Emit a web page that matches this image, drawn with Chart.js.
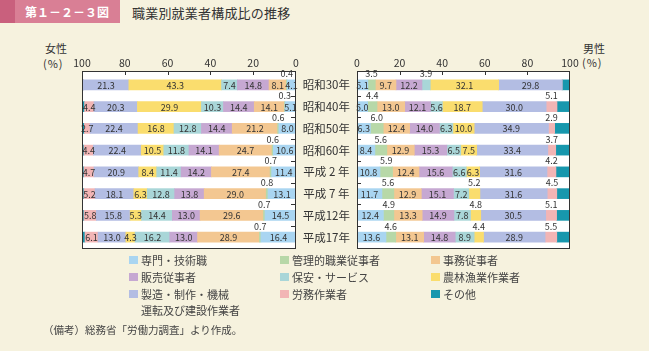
<!DOCTYPE html>
<html>
<head>
<meta charset="utf-8">
<title>職業別就業者構成比の推移</title>
<script src="https://cdn.jsdelivr.net/npm/chart.js"></script>
<style>
    body { margin: 0; background: #f6f2de; font-family: "Noto Sans CJK JP", sans-serif; color: #333; }
    #wrap { position: relative; width: 649px; height: 351px; overflow: hidden; }
    #wrap canvas { position: absolute; left: 0; top: 0; }
    .tag { position: absolute; left: 0; top: 0; width: 120px; height: 23px; box-sizing: border-box;
           background: #d97f95; border-left: 15px solid #c9607d; color: #fff; font-size: 12px;
           font-weight: bold; line-height: 23px; padding-left: 10px; }
    .title { position: absolute; left: 132px; top: 3px; font-size: 13px; letter-spacing: 0.2px; color: #333; }
    .txt { position: absolute; font-size: 11px; line-height: 14px; color: #333; white-space: nowrap; }
    .lg { position: absolute; font-size: 11px; line-height: 16px; color: #444; white-space: nowrap; }
    .lg i { position: absolute; left: -12px; top: 4px; width: 9px; height: 8px; }
    .note { position: absolute; left: 43px; top: 322px; font-size: 10.5px; color: #444; }
</style>
</head>
<body>
<div id="wrap">
    <div class="tag">第１－２－３図</div>
    <div class="title">職業別就業者構成比の推移</div>
    <div class="txt" style="left:45px; top:41px;">女性</div>
    <div class="txt" style="left:43px; top:56px; letter-spacing:1px;">(%)</div>
    <div class="txt" style="left:583px; top:41px;">男性</div>
    <div class="txt" style="left:582px; top:55px; letter-spacing:1px;">(%)</div>
    <canvas id="female" width="649" height="351"></canvas>
    <canvas id="male" width="649" height="351"></canvas>
    <div id="legend"></div>
    <div class="note">（備考）総務省「労働力調査」より作成。</div>
</div>

<script>
    const years = ['昭和30年', '昭和40年', '昭和50年', '昭和60年', '平成 2 年', '平成 7 年', '平成12年', '平成17年'];
    const occupations = ['専門・技術職', '管理的職業従事者', '事務従事者', '販売従事者', '保安・サービス',
                         '農林漁業作業者', '製造・制作・機械運転及び建設作業者', '労務作業者', 'その他'];

    // 女性 (%)
    const fSenmon = [4.1, 5.1, 8.0, 10.6, 11.4, 13.1, 14.5, 16.4];
    const fKanri  = [0.4, 0.3, 0.6, 0.6, 0.7, 0.8, 0.7, 0.7];
    const fJimu   = [8.1, 14.1, 21.2, 24.7, 27.4, 29.0, 29.6, 28.9];
    const fHanbai = [14.8, 14.4, 14.4, 14.1, 14.2, 13.8, 13.0, 13.0];
    const fHoan   = [7.4, 10.3, 12.8, 11.8, 11.4, 12.8, 14.4, 16.2];
    const fNorin  = [43.3, 29.9, 16.8, 10.5, 8.4, 6.3, 5.3, 4.3];
    const fSeizo  = [21.3, 20.3, 22.4, 22.4, 20.9, 18.1, 15.8, 13.0];
    const fRomu   = [0, 4.4, 2.7, 4.4, 4.7, 5.2, 5.8, 6.1];
    const fSonota = [0.6, 1.2, 1.1, 0.9, 0.9, 0.9, 0.9, 1.4];

    // 男性 (%)
    const mSenmon = [5.1, 5.0, 6.3, 8.4, 10.8, 11.7, 12.4, 13.6];
    const mKanri  = [3.5, 4.4, 6.0, 5.6, 5.9, 5.6, 4.9, 4.6];
    const mJimu   = [9.7, 13.0, 12.4, 12.9, 12.4, 12.9, 13.3, 13.1];
    const mHanbai = [12.2, 12.1, 14.0, 15.3, 15.6, 15.1, 14.9, 14.8];
    const mHoan   = [3.9, 5.6, 6.3, 6.5, 6.6, 7.2, 7.8, 8.9];
    const mNorin  = [32.1, 18.7, 10.0, 7.5, 6.3, 5.2, 4.8, 4.4];
    const mSeizo  = [29.8, 30.0, 34.9, 33.4, 31.6, 31.6, 30.5, 28.9];
    const mRomu   = [0, 5.1, 2.9, 3.7, 4.2, 4.5, 5.1, 5.5];
    const mSonota = [3.7, 6.1, 7.2, 6.7, 6.6, 6.2, 6.3, 6.2];

    const axisTicks = [0, 20, 40, 60, 80, 100];

    const colors = ['#a9d5f1', '#b7d8a8', '#f3c791', '#c6a8d2', '#a9d6d8', '#fadd6e', '#b3bde3', '#f2b5b5', '#1797ad'];
    const FONT = '"Noto Sans CJK JP", sans-serif';

    // which segments get their value written above the bar (row indexes), and which are left unlabeled
    const fAbove = { 1: 'all' };
    const mAbove = { 1: 'all', 4: [0], 5: [5, 6, 7], 7: 'all' };
    const noLabel = [8];

    function makeDatasets(series, above) {
        return series.map((d, i) => ({
            label: occupations[i], data: d, backgroundColor: colors[i],
            borderWidth: 0, barThickness: 10, above: above[i] || null
        }));
    }

    const frame = {
        id: 'frame',
        beforeDraw(chart) {
            const a = chart.chartArea, c = chart.ctx;
            c.save();
            c.fillStyle = '#fff';
            c.fillRect(a.left, a.top - 3, a.right - a.left, a.bottom - a.top + 4);
            c.restore();
        },
        afterDraw(chart) {
            const a = chart.chartArea, c = chart.ctx, xs = chart.scales.x;
            const top = a.top - 3;
            c.save();
            c.strokeStyle = '#333';
            c.lineWidth = 1;
            c.strokeRect(Math.round(a.left) + 0.5, top + 0.5, Math.round(a.right - a.left) - 1, Math.round(a.bottom - top));
            [20, 40, 60, 80].forEach(v => {
                const x = Math.round(xs.getPixelForValue(v)) + 0.5;
                c.beginPath(); c.moveTo(x, top); c.lineTo(x, top + 4); c.stroke();
            });
            c.restore();
        }
    };

    const segLabels = {
        id: 'segLabels',
        afterDatasetsDraw(chart) {
            const c = chart.ctx, a = chart.chartArea;
            const female = chart.options.scales.x.reverse;
            c.save();
            c.font = '9px ' + FONT;
            c.fillStyle = '#333';
            c.textAlign = 'center';
            c.textBaseline = 'middle';
            chart.data.datasets.forEach((ds, di) => {
                if (noLabel.includes(di)) return;
                chart.getDatasetMeta(di).data.forEach((bar, i) => {
                    const v = ds.data[i];
                    if (!v) return;
                    const cx = (bar.x + bar.base) / 2;
                    const up = ds.above === 'all' || (Array.isArray(ds.above) && ds.above.includes(i));
                    c.fillText(v.toFixed(1), cx, up ? bar.y - 11 : bar.y + 0.5);
                });
            });
            // small leader marks at the axis edge
            c.strokeStyle = '#333';
            c.lineWidth = 1;
            const meta = chart.getDatasetMeta(0).data;
            meta.forEach((bar, i) => {
                if (i === 0) return;
                const y = Math.round(bar.y - 11) + 0.5;
                c.beginPath();
                if (female) { c.moveTo(a.right - 5, y); c.lineTo(a.right, y); }
                else { c.moveTo(a.left, y); c.lineTo(a.left + 4, y); }
                c.stroke();
            });
            c.restore();
        }
    };

    function xAxis(reverse) {
        return {
            type: 'linear', position: 'top', min: 0, max: 100, reverse: reverse, stacked: true,
            grid: { display: false, drawTicks: false },
            border: { display: false },
            afterBuildTicks: s => { s.ticks = axisTicks.map(v => ({ value: v })); },
            ticks: { padding: 5, color: '#333', maxRotation: 0, autoSkip: false, font: { size: 10.5, family: FONT } },
            afterFit: s => { s.height = 20; }
        };
    }

    new Chart(document.getElementById('female'), {
        type: 'bar',
        data: {
            labels: years,
            datasets: makeDatasets([fSenmon, fKanri, fJimu, fHanbai, fHoan, fNorin, fSeizo, fRomu, fSonota], fAbove)
        },
        options: {
            indexAxis: 'y', responsive: false, animation: false,
            layout: { padding: { left: 82, right: 353, top: 54, bottom: 103 } },
            plugins: { legend: { display: false }, tooltip: { enabled: false } },
            scales: {
                x: xAxis(true),
                y: { stacked: true, display: false }
            }
        },
        plugins: [frame, segLabels]
    });

    new Chart(document.getElementById('male'), {
        type: 'bar',
        data: {
            labels: years,
            datasets: makeDatasets([mSenmon, mKanri, mJimu, mHanbai, mHoan, mNorin, mSeizo, mRomu, mSonota], mAbove)
        },
        options: {
            indexAxis: 'y', responsive: false, animation: false,
            layout: { padding: { left: 298, right: 79, top: 54, bottom: 103 } },
            plugins: { legend: { display: false }, tooltip: { enabled: false } },
            scales: {
                x: xAxis(false),
                y: {
                    stacked: true, position: 'left',
                    grid: { display: false, drawTicks: false },
                    border: { display: false },
                    ticks: { crossAlign: 'center', padding: 7, color: '#333', font: { size: 11.5, family: FONT } },
                    afterFit: s => { s.width = 59; }
                }
            }
        },
        plugins: [frame, segLabels]
    });

    // legend, three columns in dataset order
    const lgX = [141, 292, 443];
    const lgY = [252, 269, 286];
    const legend = document.getElementById('legend');
    occupations.forEach((name, i) => {
        const d = document.createElement('div');
        d.className = 'lg';
        d.style.left = lgX[i % 3] + 'px';
        d.style.top = lgY[Math.floor(i / 3)] + 'px';
        d.innerHTML = '<i style="background:' + colors[i] + '"></i>' + name.replace('機械', '機械<br>');
        legend.appendChild(d);
    });
</script>
</body>
</html>
